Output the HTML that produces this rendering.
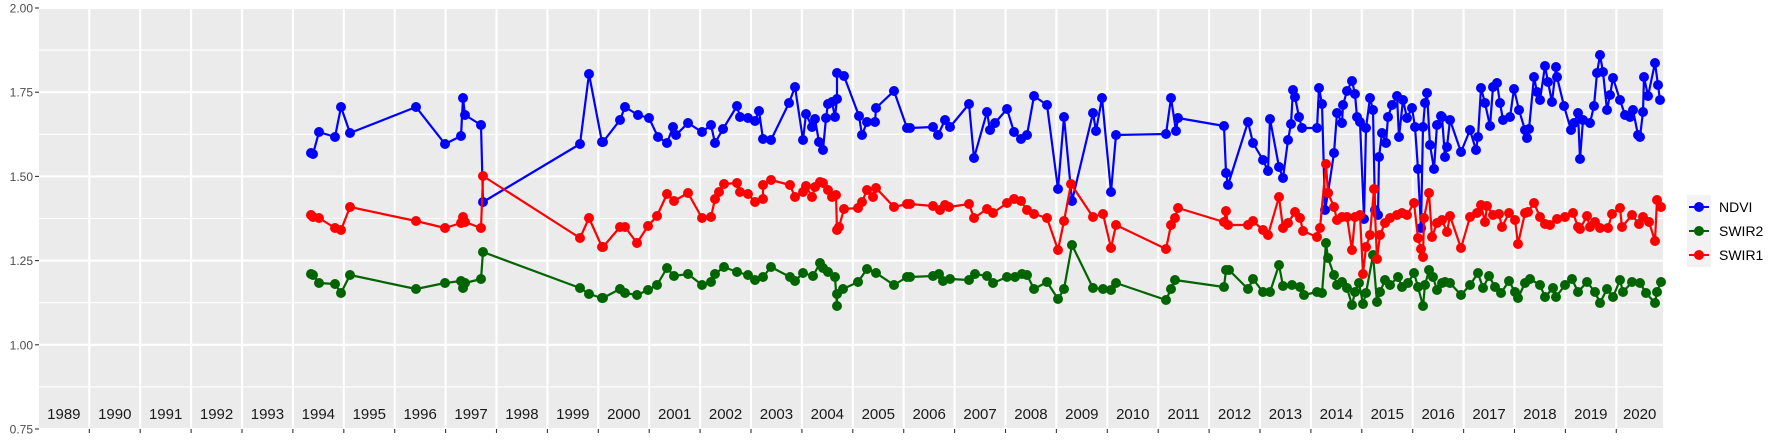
<!DOCTYPE html>
<html><head><meta charset="utf-8"><style>
html,body{margin:0;padding:0;background:#fff;}
svg{display:block;font-family:"Liberation Sans",sans-serif;}
</style></head><body>
<svg id="s" width="1773" height="442" viewBox="0 0 1773 442" xmlns="http://www.w3.org/2000/svg">
<rect x="39" y="8" width="1624" height="421" fill="#EBEBEB"/>
<g id="grid"></g>
<g id="data"></g>
<g id="axes"></g>
<g id="legend">
<rect x="1687" y="195" width="24" height="72" fill="#F2F2F2"/>
<line x1="1689" y1="207" x2="1709" y2="207" stroke="#0000FF" stroke-width="2"/><circle cx="1699" cy="207" r="5" fill="#0000FF"/>
<line x1="1689" y1="231" x2="1709" y2="231" stroke="#006400" stroke-width="2"/><circle cx="1699" cy="231" r="5" fill="#006400"/>
<line x1="1689" y1="255" x2="1709" y2="255" stroke="#FF0000" stroke-width="2"/><circle cx="1699" cy="255" r="5" fill="#FF0000"/>
<text x="1719" y="212" font-size="14" fill="#000">NDVI</text>
<text x="1719" y="236" font-size="14" fill="#000">SWIR2</text>
<text x="1719" y="260" font-size="14" fill="#000">SWIR1</text>
</g>
</svg>
<script>
var NS="http://www.w3.org/2000/svg";
function el(p,t,a,txt){var e=document.createElementNS(NS,t);for(var k in a)e.setAttribute(k,a[k]);if(txt!==undefined)e.textContent=txt;p.appendChild(e);return e;}
var grid=document.getElementById('grid'),axes=document.getElementById('axes'),data=document.getElementById('data');
function Y(v){return 8+(2-v)*336.8;}
for(var v=0.875;v<2;v+=0.25){el(grid,'line',{x1:39,x2:1663,y1:Y(v),y2:Y(v),stroke:'#fff','stroke-width':1.1});}
for(var v=0.75;v<=2.001;v+=0.25){el(grid,'line',{x1:39,x2:1663,y1:Y(v),y2:Y(v),stroke:'#fff','stroke-width':2.1});
 el(axes,'line',{x1:35,x2:39,y1:Y(v),y2:Y(v),stroke:'#333','stroke-width':1.1});
 el(axes,'text',{x:33,y:Y(v)+4.5,'font-size':12,'text-anchor':'end',fill:'#4D4D4D'},v.toFixed(2));}
function X(y){return 38.4+50.9*(y-1989);}
for(var k=1;k<=31;k++){var x=X(1989+k);el(grid,'line',{x1:x,x2:x,y1:8,y2:429,stroke:'#fff','stroke-width':2.1});
 el(axes,'line',{x1:x,x2:x,y1:429,y2:433,stroke:'#333','stroke-width':1.1});}
for(var y=1989;y<=2020;y++){var cx=(X(y)+Math.min(X(y+1),1663))/2;el(axes,'text',{x:cx,y:419,'font-size':15,'text-anchor':'middle',fill:'#1a1a1a'},String(y));}
var blue=[[311,153],[313,154],[319,132],[335,137],[341,107],[350,133],[416,107],[445,144],[461,136],[463,98],[465,115],[481,125],[483,202],[580,144],[589,74],[602,142],[603,142],[620,120],[625,107],[638,115],[649,118],[658,137],[667,143],[673,127],[676,135],[688,123],[702,132],[711,125],[715,143],[723,129],[737,106],[740,117],[748,118],[755,121],[759,111],[763,139],[771,140],[789,103],[795,87],[803,140],[806,114],[812,127],[815,119],[819,142],[823,150],[826,118],[828,104],[832,102],[835,117],[837,99],[837,73],[844,76],[859,116],[862,135],[867,122],[875,122],[876,108],[894,91],[907,128],[910,128],[933,127],[938,135],[945,120],[950,127],[969,104],[974,158],[987,112],[990,130],[995,123],[1007,109],[1014,132],[1021,139],[1027,135],[1034,96],[1047,105],[1058,189],[1064,117],[1072,201],[1093,113],[1096,131],[1102,98],[1111,192],[1116,135],[1166,134],[1171,98],[1176,131],[1178,118],
[1224,126],[1226,173],[1228,185],[1248,122],[1253,143],[1263,160],[1268,171],[1270,119],[1279,167],[1283,178],[1288,140],[1291,124],[1293,90],[1295,97],[1299,117],[1302,128],[1317,128],[1319,88],[1322,104],[1325,210],[1328,193],[1334,153],[1337,113],[1342,123],[1343,105],[1347,91],[1352,81],[1355,94],[1357,117],[1360,122],[1364,219],[1366,128],[1370,98],[1373,110],[1375,210],[1378,215],[1379,157],[1382,133],[1386,143],[1388,117],[1392,105],[1397,96],[1399,137],[1403,100],[1407,118],[1412,108],[1415,127],[1418,169],[1421,228],[1423,127],[1425,103],[1427,93],[1430,145],[1434,169],[1437,125],[1441,116],[1442,117],[1445,157],[1447,147],[1450,120],[1461,152],[1470,130],[1476,150],[1478,137],[1481,88],[1485,103],[1490,126],[1493,87],[1497,83],[1500,103],[1503,120],[1510,117],[1514,89],[1519,110],[1525,130],[1527,138],[1529,129],[1534,77],[1537,92],[1540,100],[1545,66],[1548,82],[1552,102],[1556,67],[1557,77],[1564,106],[1571,130],[1574,123],[1578,113],[1580,159],[1583,120],[1590,123],[1594,106],[1597,73],[1600,55],[1603,72],[1607,110],[1610,95],[1613,78],[1620,100],[1625,115],[1630,117],[1633,110],[1638,135],[1640,137],[1643,112],[1644,77],[1648,96],[1655,63],[1658,85],[1660,100]];
var red=[[311,215],[313,217],[319,218],[335,228],[341,230],[350,207],[416,221],[445,228],[461,223],[463,217],[465,222],[481,228],[483,176],[580,238],[589,218],[602,247],[603,247],[620,227],[625,227],[637,243],[648,226],[657,216],[667,194],[674,201],[688,193],[702,218],[711,217],[715,199],[719,192],[724,184],[737,183],[740,192],[748,194],[755,202],[763,199],[763,185],[771,180],[790,185],[795,197],[803,192],[806,186],[812,197],[815,187],[820,182],[823,183],[828,190],[832,197],[836,195],[837,230],[839,227],[844,209],[858,208],[862,202],[867,190],[873,197],[876,188],[894,207],[907,204],[910,204],[933,206],[940,210],[945,205],[949,207],[969,204],[974,218],[987,209],[993,213],[1007,203],[1014,199],[1021,201],[1027,210],[1034,214],[1047,218],[1058,250],[1064,221],[1071,184],[1093,217],[1103,214],[1111,248],[1116,225],[1166,249],[1171,225],[1175,218],[1178,208],
[1224,222],[1226,211],[1228,225],[1248,225],[1253,221],[1263,230],[1268,235],[1279,197],[1283,228],[1288,223],[1295,212],[1300,218],[1303,231],[1317,237],[1320,228],[1326,164],[1328,193],[1334,207],[1337,220],[1342,217],[1347,217],[1352,250],[1355,217],[1360,215],[1363,274],[1366,247],[1370,235],[1374,189],[1377,259],[1380,235],[1385,223],[1390,218],[1397,215],[1402,213],[1407,215],[1414,203],[1418,238],[1421,249],[1423,257],[1424,218],[1429,193],[1432,237],[1437,223],[1442,220],[1447,232],[1450,216],[1461,248],[1470,217],[1477,213],[1481,205],[1485,222],[1487,206],[1493,215],[1499,214],[1502,227],[1509,213],[1515,220],[1518,244],[1525,213],[1528,212],[1534,203],[1540,217],[1545,224],[1550,225],[1557,219],[1565,217],[1573,213],[1578,227],[1580,229],[1587,216],[1590,227],[1595,222],[1600,228],[1608,228],[1612,214],[1620,208],[1622,227],[1632,215],[1639,224],[1643,217],[1649,222],[1655,241],[1657,200],[1661,207]];
var green=[[311,274],[313,275],[319,283],[335,284],[341,293],[350,275],[416,289],[445,283],[461,281],[463,288],[465,283],[481,279],[483,252],[580,288],[589,294],[602,298],[603,298],[620,289],[625,293],[637,295],[648,290],[657,285],[667,268],[674,276],[688,274],[702,285],[711,282],[715,274],[724,267],[737,272],[748,275],[755,280],[763,277],[771,267],[790,277],[795,281],[803,273],[813,276],[820,263],[823,268],[828,272],[835,277],[837,306],[837,294],[843,289],[858,282],[867,269],[876,273],[894,285],[907,277],[910,277],[933,276],[939,274],[943,281],[950,279],[969,280],[975,274],[987,276],[993,283],[1007,277],[1015,277],[1022,274],[1027,275],[1034,289],[1047,282],[1058,299],[1064,289],[1072,245],[1093,288],[1103,289],[1111,290],[1116,283],[1166,300],[1171,289],[1175,280],
[1224,287],[1226,270],[1229,270],[1248,289],[1253,279],[1263,292],[1270,292],[1279,265],[1283,286],[1292,285],[1300,287],[1304,295],[1317,292],[1322,293],[1326,243],[1328,258],[1334,275],[1337,285],[1342,282],[1347,288],[1352,305],[1355,292],[1359,283],[1363,304],[1366,293],[1373,255],[1377,302],[1380,292],[1385,280],[1390,285],[1398,277],[1402,287],[1408,283],[1414,273],[1418,287],[1423,306],[1425,285],[1429,270],[1433,277],[1437,290],[1442,283],[1445,282],[1450,283],[1461,295],[1470,285],[1478,273],[1483,288],[1489,276],[1495,287],[1501,293],[1509,281],[1515,292],[1518,298],[1525,283],[1530,279],[1540,285],[1545,297],[1553,288],[1556,297],[1565,285],[1572,279],[1578,292],[1587,282],[1595,292],[1600,303],[1607,289],[1613,297],[1620,280],[1623,292],[1632,282],[1640,283],[1646,293],[1655,303],[1657,292],[1661,282]];
function series(pts,c){el(data,'polyline',{points:pts.map(function(p){return p.join(',')}).join(' '),fill:'none',stroke:c,'stroke-width':2.2,'stroke-linejoin':'round'});
 pts.forEach(function(p){el(data,'circle',{cx:p[0],cy:p[1],r:5,fill:c});});}
series(blue,'#0000FF');series(green,'#006400');series(red,'#FF0000');
</script>
</body></html>
